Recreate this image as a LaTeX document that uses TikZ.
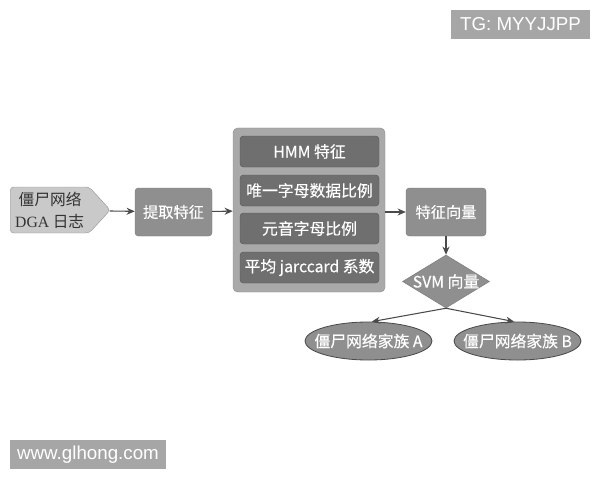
\documentclass[tikz,border=0pt]{standalone}
\usepackage{fontspec}
\setmainfont{Liberation Sans}
\newfontfamily\cjk[FakeBold=0.3]{Noto Sans CJK SC}
\newfontfamily\cjklight{Noto Sans CJK SC}
\newfontfamily\latinserif{Liberation Serif}
\usetikzlibrary{shapes.geometric,shapes.symbols,arrows.meta}

\definecolor{srcfill}{HTML}{C9C9C9}
\definecolor{boxfill}{HTML}{8F8F8F}
\definecolor{panelfill}{HTML}{A9A9A9}
\definecolor{innerfill}{HTML}{6F6F6F}
\definecolor{linegray}{HTML}{4A4A4A}
\definecolor{markfill}{HTML}{A6A6A6}

\tikzset{
  flow/.style={-{Stealth[length=7pt,width=6pt]},draw=linegray,line width=0.9pt},
  graybox/.style={rectangle,rounded corners=3pt,fill=boxfill,draw=boxfill!85!black,
    text=white,font=\cjk\fontsize{13}{15}\selectfont,inner sep=0pt},
  innerbox/.style={rectangle,rounded corners=3pt,fill=innerfill,draw=innerfill!80!black,
    text=white,font=\cjk\fontsize{13.5}{16}\selectfont,inner sep=0pt,
    minimum width=4.17cm,minimum height=0.93cm},
  family/.style={ellipse,fill=boxfill,draw=linegray,line width=0.7pt,inner sep=0pt,
    minimum width=3.81cm,minimum height=1.14cm},
  markbox/.style={rectangle,fill=markfill,text=white,inner sep=0pt,
    font=\fontsize{16}{18}\selectfont}
}

\begin{document}
\begin{tikzpicture}[x=0.03cm,y=-0.03cm]
    \fill[white] (0,0) rectangle (600,480);
    \node[markbox,minimum width=4.17cm,minimum height=0.87cm] (tg) at (520.5,24.5) {TG: MYYJJPP};
    \node[markbox,minimum width=4.68cm,minimum height=0.87cm] (site) at (88,454.5) {www.glhong.com};
    % input log
    \node[signal,signal to=east,signal pointer angle=95,fill=srcfill,draw=gray!80,
      rounded corners=3pt,minimum width=3cm,minimum height=1.38cm,inner xsep=3pt,inner ysep=0pt,
      align=left,text=black!80,font=\cjklight\fontsize{13.4}{19}\selectfont,
      anchor=west] (log) at (10,210)
      {\hspace*{3pt}僵尸网络\\{\latinserif DGA} 日志};
    \node[graybox,minimum width=2.31cm,minimum height=1.44cm] (extract) at (173.5,212) {提取特征};
    % feature panel
    \node[rectangle,rounded corners=4pt,fill=panelfill,draw=panelfill!85!black,
      minimum width=4.56cm,minimum height=4.92cm] (panel) at (309,210) {};
    \node[innerbox] (f1) at (309.5,151.5) {HMM 特征};
    \node[innerbox] (f2) at (309.5,190.5) {唯一字母数据比例};
    \node[innerbox] (f3) at (309.5,228.5) {元音字母比例};
    \node[innerbox] (f4) at (309.5,267.5) {平均 jarccard 系数};
    \node[graybox,minimum width=2.4cm,minimum height=1.44cm] (vec) at (446,212) {特征向量};
    \node[diamond,fill=boxfill,draw=boxfill!85!black,inner sep=0pt,
      minimum width=2.61cm,minimum height=1.59cm,
      label={[text=white,font=\cjk\fontsize{13.5}{15}\selectfont]center:SVM 向量}] (svm) at (446,281.5) {};
    \node[family,label={[text=white,font=\cjk\fontsize{13.5}{15}\selectfont]center:僵尸网络家族 A}] (famA) at (368.5,341) {};
    \node[family,label={[text=white,font=\cjk\fontsize{13.5}{15}\selectfont]center:僵尸网络家族 B}] (famB) at (517.5,341) {};
    \draw[flow] (log) -- (extract);
    \draw[flow] (extract) -- (panel);
    \draw[flow] (panel.east |- vec) -- (vec);
    \draw[flow] (vec) -- (svm);
    \draw[flow] (svm.south) -- (famA.80);
    \draw[flow] (svm.south) -- (famB.100);
\end{tikzpicture}
\end{document}
